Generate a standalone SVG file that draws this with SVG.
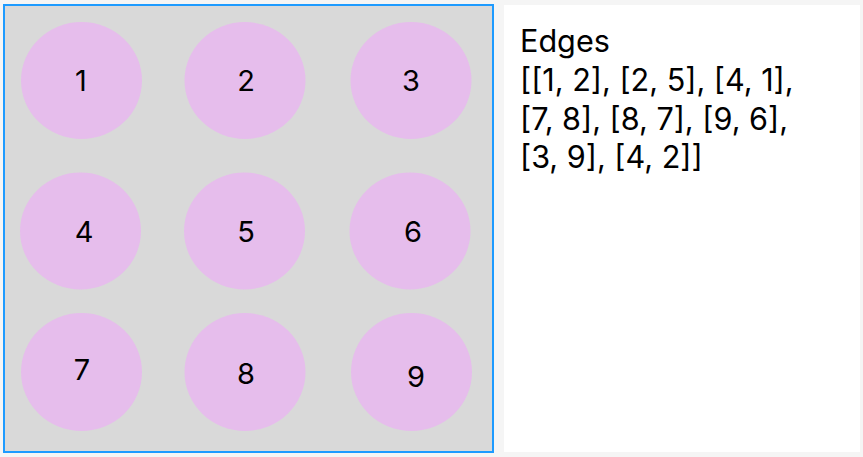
<svg xmlns="http://www.w3.org/2000/svg" width="863" height="457" viewBox="0 0 863 457">
<style>
.n ellipse{fill:#e6bdec}
.n text{font-family:Inter,"Noto Sans",sans-serif;font-size:29px;fill:#000;text-anchor:middle;dominant-baseline:central}
.t{font-family:Inter,"Noto Sans",sans-serif;font-size:30.6px;fill:#000}
</style>
<rect x="0" y="0" width="863" height="457" fill="#f5f5f5"/>
<rect x="4" y="5" width="489" height="447" fill="#d9d9d9" stroke="#1e9bff" stroke-width="2"/>
<rect x="504" y="5" width="356" height="447" fill="#ffffff"/>
<g id="connectors"></g>
<g id="node1" class="n"><ellipse cx="81.5" cy="80.5" rx="60.5" ry="58.5"/><text x="81" y="80">1</text></g>
<g id="node2" class="n"><ellipse cx="245" cy="80.5" rx="60.5" ry="58.5"/><text x="246" y="80">2</text></g>
<g id="node3" class="n"><ellipse cx="411" cy="80.5" rx="60.5" ry="58.5"/><text x="411" y="80">3</text></g>
<g id="node4" class="n"><ellipse cx="80.5" cy="231" rx="60.5" ry="58.5"/><text x="84" y="231">4</text></g>
<g id="node5" class="n"><ellipse cx="244.5" cy="231" rx="60.5" ry="58.5"/><text x="246" y="231">5</text></g>
<g id="node6" class="n"><ellipse cx="410" cy="231" rx="60.5" ry="58.5"/><text x="413" y="231">6</text></g>
<g id="node7" class="n"><ellipse cx="81.5" cy="372" rx="60.5" ry="59"/><text x="82" y="369">7</text></g>
<g id="node8" class="n"><ellipse cx="245" cy="372" rx="60.5" ry="59"/><text x="246" y="373">8</text></g>
<g id="node9" class="n"><ellipse cx="411.5" cy="372" rx="60.5" ry="59"/><text x="416" y="376">9</text></g>
<g id="edges-label" class="t">
<text x="520" y="52">Edges</text>
<text x="520" y="91">[[1, 2], [2, 5], [4, 1],</text>
<text x="520" y="129.5">[7, 8], [8, 7], [9, 6],</text>
<text x="520" y="168">[3, 9], [4, 2]]</text>
</g>
</svg>
